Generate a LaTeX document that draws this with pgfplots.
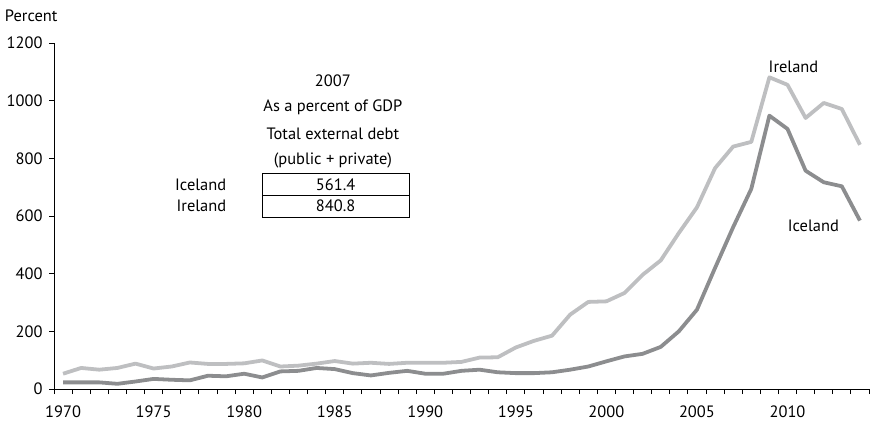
\documentclass[border=0pt]{standalone}
\usepackage{fontspec}
\setmainfont{PT Sans}
\usepackage{pgfplots}
\pgfplotsset{compat=1.18}
\definecolor{irl}{HTML}{BEBFC1}
\definecolor{isl}{HTML}{8C8D8F}
\begin{document}
\begin{tikzpicture}[every node/.append style={font=\fontsize{16.5}{19}\selectfont}]
\begin{axis}[
  scale only axis, width=815bp, height=346bp,
  at={(0,0)}, anchor=south west,
  xmin=1969.5, xmax=2014.5, ymin=0, ymax=1200,
  axis lines=left, axis line style={-, line width=0.8pt},
  clip=false,
  xtick={1970,1975,...,2010},
  major x tick style={draw=none},
  minor xtick={1969.5,1970.5,...,2014.5},
  minor tick length=5bp,
  ytick={0,200,...,1200},
  major tick length=5bp,
  tick align=outside,
  tick style={black, line width=0.8pt},
  every tick label/.append style={font=\fontsize{16.5}{19}\selectfont},
  /pgf/number format/1000 sep={},
  /pgf/number format/assume math mode=true,
  xticklabel style={yshift=-8bp},
  yticklabel style={xshift=-3bp},
]
\addplot[irl, line width=3.8pt, line join=round] coordinates {
(1970,53)(1971,73)(1972,67)(1973,73)(1974,88)(1975,71)(1976,78)(1977,92)(1978,87)(1979,87)
(1980,89)(1981,99)(1982,78)(1983,81)(1984,88)(1985,97)(1986,88)(1987,91)(1988,87)(1989,91)
(1990,91)(1991,91)(1992,94)(1993,109)(1994,110)(1995,144)(1996,167)(1997,185)(1998,258)(1999,302)
(2000,304)(2001,333)(2002,396)(2003,446)(2004,541)(2005,630)(2006,766)(2007,840.8)(2008,857)(2009,1081)
(2010,1055)(2011,940)(2012,992)(2013,971)(2014,847)};
\addplot[isl, line width=3.8pt, line join=round] coordinates {
(1970,23)(1971,23)(1972,23)(1973,18)(1974,26)(1975,35)(1976,32)(1977,30)(1978,46)(1979,44)
(1980,53)(1981,40)(1982,61)(1983,63)(1984,73)(1985,69)(1986,55)(1987,47)(1988,56)(1989,63)
(1990,53)(1991,53)(1992,63)(1993,67)(1994,58)(1995,55)(1996,55)(1997,58)(1998,67)(1999,78)
(2000,96)(2001,113)(2002,122)(2003,146)(2004,200)(2005,275)(2006,420)(2007,561.4)(2008,694)(2009,948)
(2010,902)(2011,757)(2012,717)(2013,703)(2014,584)};
\node[anchor=west] at (axis cs:1966.6,1295) {Percent};
\node at (axis cs:1984.9,1069) {2007};
\node at (axis cs:1984.9,976) {As a percent of GDP};
\node at (axis cs:1984.9,886) {Total external debt};
\node at (axis cs:1984.9,792) {(public + private)};
\draw[black, line width=0.9pt] (axis cs:1980.99,594) rectangle (axis cs:1989.11,747);
\draw[black, line width=0.9pt] (axis cs:1980.99,670) -- (axis cs:1989.11,670);
\node at (axis cs:1985.05,709) {561.4};
\node at (axis cs:1985.05,636) {840.8};
\node[anchor=east] at (axis cs:1979.2,709) {Iceland};
\node[anchor=east] at (axis cs:1979.2,636) {Ireland};
\node at (axis cs:2010.33,1118) {Ireland};
\node at (axis cs:2011.43,566) {Iceland};
\end{axis}
\pgfresetboundingbox
\path (-54bp,-44bp) rectangle (816bp,389bp);
\end{tikzpicture}
\end{document}
